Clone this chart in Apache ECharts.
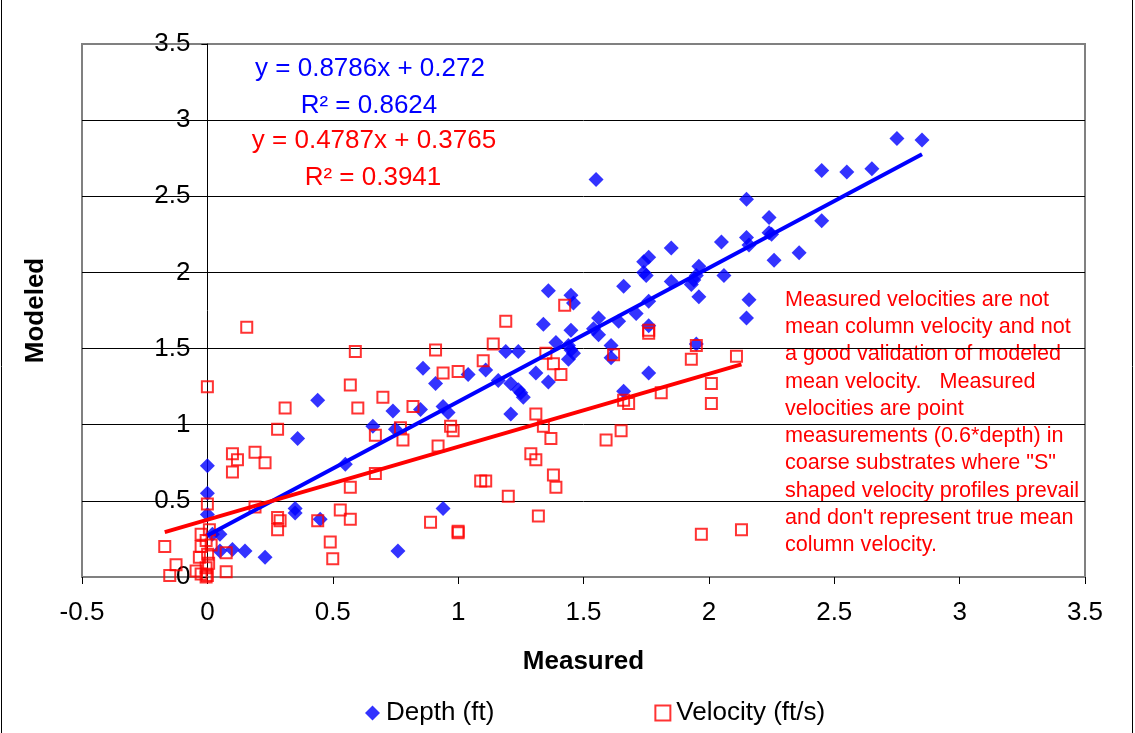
<!DOCTYPE html>
<html>
<head>
<meta charset="utf-8">
<script src="https://cdn.jsdelivr.net/npm/echarts@6/dist/echarts.min.js"></script>
<style>
html,body{margin:0;padding:0;background:#fff;}
#chart{width:1135px;height:733px;}
</style>
</head>
<body>
<div id="chart"></div>
<script>
// ---- Data ----
const depthX = [2.75,2.85,2.45,2.55,2.65,2.45,2.36,2.26,2.24,2.24,2.25,2.15,2.15,2.16,2.16,2.15,2.05,2.06,1.96,1.95,1.94,1.93,1.96,1.95,1.55,1.85,1.76,1.74,1.74,1.75,1.66,1.85,1.76,1.71,1.64,1.56,1.54,1.56,1.76,1.36,1.45,1.46,1.34,1.45,1.39,1.44,1.45,1.61,1.19,1.24,1.46,1.44,1.61,0.86,0.91,1.04,1.11,1.16,1.21,1.24,1.25,1.26,1.31,1.36,1.76,1.66,0.94,0.96,1.21,0.94,0.85,0.44,0.36,0.66,0.74,0.75,0.55,0,0,0,0.35,0.35,0.45,0.05,0.05,0.10,0.15,0.23,0.76,0.02];
const depthY = [2.88,2.87,2.67,2.66,2.68,2.34,2.13,2.08,2.36,2.26,2.25,2.48,2.23,2.18,1.82,1.70,2.20,1.98,2.04,1.98,1.95,1.92,1.84,1.53,2.61,2.16,2.10,2.07,2.00,1.98,1.91,1.94,1.81,1.73,1.68,1.70,1.63,1.59,1.65,1.88,1.85,1.80,1.66,1.62,1.54,1.52,1.49,1.52,1.48,1.48,1.47,1.43,1.44,1.37,1.27,1.33,1.36,1.29,1.27,1.23,1.21,1.18,1.34,1.28,1.34,1.22,1.12,1.08,1.07,0.45,1.10,1.16,0.91,0.99,1.09,0.97,0.74,0.73,0.55,0.41,0.45,0.42,0.38,0.28,0.17,0.18,0.17,0.13,0.17,0.28];
const velX = [-0.025,0.008,-0.005,-0.025,0.015,-0.032,0.001,0.005,-0.005,-0.045,-0.025,0.0,-0.005,0.0,0.0,-0.15,-0.125,-0.17,0.075,0.075,0.157,0.59,0.57,0.70,0.60,0.31,0.28,0.82,0.77,0.78,0.67,0.10,0.12,0.10,0.19,0.23,0.67,0.57,0.19,0.53,0.57,0.28,0.29,0.28,0.44,0.49,0.50,0.91,1.10,1.14,0.94,1.00,1.35,1.38,1.41,1.62,0.97,0.98,0.92,1.31,1.34,1.37,1.29,1.31,1.38,1.39,1.09,1.11,1.20,1.32,0.89,1.00,1.00,1.66,1.68,1.81,1.59,1.65,1.93,2.11,2.01,2.01,1.97,2.13,1.95,1.425,1.19,1.76,1.76];
const velY = [0.28,0.31,0.24,0.20,0.21,0.13,0.15,0.09,0.06,0.04,0.02,0.01,0.0,0.48,1.25,0.01,0.08,0.20,0.035,0.16,1.64,1.48,1.26,1.18,1.11,1.11,0.97,1.12,0.98,0.90,0.93,0.81,0.77,0.69,0.82,0.75,0.68,0.59,0.46,0.44,0.38,0.39,0.37,0.31,0.37,0.23,0.12,1.49,1.42,1.53,1.34,1.35,1.47,1.40,1.33,1.46,0.99,0.96,0.86,1.07,0.99,0.91,0.81,0.77,0.67,0.59,0.63,0.63,0.53,0.40,0.36,0.30,0.29,1.16,1.14,1.21,0.90,0.96,1.43,1.45,1.27,1.14,0.28,0.31,1.52,1.785,1.68,1.60,1.62];
const xTicks = {min:-0.5, max:3.5, interval:0.5};
const yTicks = {min:0, max:3.5, interval:0.5};
const depthFit = {slope:0.8786, intercept:0.272, r2:'0.8624', slopeText:'0.8786', interceptText:'0.272'};
const velFit = {slope:0.4787, intercept:0.3765, r2:'0.3941', slopeText:'0.4787', interceptText:'0.3765'};
const seriesNames = ['Depth (ft)','Velocity (ft/s)'];
const axisNames = {x:'Measured', y:'Modeled'};
const noteText = 'Measured velocities are not\nmean column velocity and not\na good validation of modeled\nmean velocity.   Measured\nvelocities are point\nmeasurements (0.6*depth) in\ncoarse substrates where "S"\nshaped velocity profiles prevail\nand don\'t represent true mean\ncolumn velocity.';

// ---- Build ----
const FONT = '"Liberation Sans", Arial, sans-serif';
const BLUE = '#0000FF', RED = '#FF0000';
const FS = 26;
const pairs = (xs, ys) => xs.map((x, i) => [x, ys[i]]);
const fitLine = (xs, fit) => {
  const lo = Math.min(...xs), hi = Math.max(...xs);
  return [[lo, fit.slope*lo + fit.intercept],[hi, fit.slope*hi + fit.intercept]];
};

const W = 1135, H = 733;
const gridL = 82, gridR = 50, gridT = 44, gridB = 156;
const plotW = W - gridL - gridR;
// y axis crosses at x = 0: shift it inward by the pixel distance of 0 from the left edge
const yAxisShift = plotW * (0 - xTicks.min) / (xTicks.max - xTicks.min);

const chart = echarts.init(document.getElementById('chart'), null, {renderer:'canvas'});
chart.setOption({
  animation:false,
  backgroundColor:'#fff',
  textStyle:{fontFamily:FONT},
  grid:{left:gridL, right:gridR, top:gridT, bottom:gridB, containLabel:false, outerBoundsMode:'none',
        show:true, borderColor:'#808080', borderWidth:2, backgroundColor:'transparent'},
  xAxis:{
    type:'value', min:xTicks.min, max:xTicks.max, interval:xTicks.interval,
    name:axisNames.x, nameLocation:'middle', nameGap:72,
    nameTextStyle:{fontSize:FS, fontWeight:'bold', color:'#000', fontFamily:FONT},
    axisLine:{show:true, onZero:false, lineStyle:{color:'#808080', width:2}},
    axisTick:{show:true, inside:false, length:7, lineStyle:{color:'#000', width:1}},
    axisLabel:{fontSize:FS, color:'#000', margin:23, fontFamily:FONT},
    splitLine:{show:false}
  },
  yAxis:{
    type:'value', min:yTicks.min, max:yTicks.max, interval:yTicks.interval,
    offset:-yAxisShift,
    name:axisNames.y, nameLocation:'middle', nameGap:159,
    nameTextStyle:{fontSize:FS, fontWeight:'bold', color:'#000', fontFamily:FONT},
    axisLine:{show:true, onZero:false, lineStyle:{color:'#000', width:1}},
    axisTick:{show:true, inside:false, length:6, lineStyle:{color:'#000', width:1}},
    axisLabel:{fontSize:FS, color:'#000', margin:17, fontFamily:FONT},
    splitLine:{show:true, showMinLine:false, showMaxLine:false, lineStyle:{color:'#000', width:1}}
  },
  legend:{
    data:seriesNames, left:360, top:695, itemGap:160, itemWidth:15, itemHeight:15,
    textStyle:{fontSize:FS, color:'#000', fontFamily:FONT, padding:[0,0,0,1]}
  },
  series:[
    {name:seriesNames[0], type:'scatter', symbol:'diamond', symbolSize:[15,15], z:3,
     itemStyle:{color:BLUE}, data:pairs(depthX, depthY)},
    {name:seriesNames[1], type:'scatter', symbol:'rect', symbolSize:[11,11], z:4,
     itemStyle:{color:'rgba(255,255,255,0)', borderColor:RED, borderWidth:2}, data:pairs(velX, velY)},
    {name:'depthTrend', type:'line', showSymbol:false, symbol:'none', z:5, silent:true,
     lineStyle:{color:BLUE, width:4}, data:fitLine(depthX, depthFit)},
    {name:'velTrend', type:'line', showSymbol:false, symbol:'none', z:6, silent:true,
     lineStyle:{color:RED, width:4}, data:fitLine(velX, velFit)}
  ],
  graphic:[
    {type:'rect', shape:{x:1.5, y:-5, width:1131, height:745}, style:{fill:'none', stroke:'#000', lineWidth:1}, silent:true},
    {type:'text', x:370, y:69, style:{text:'y = '+depthFit.slopeText+'x + '+depthFit.interceptText, fill:BLUE, fontSize:FS, fontFamily:FONT, align:'center', verticalAlign:'middle'}},
    {type:'text', x:369, y:106, style:{text:'R² = '+depthFit.r2, fill:BLUE, fontSize:FS, fontFamily:FONT, align:'center', verticalAlign:'middle'}},
    {type:'text', x:374, y:141, style:{text:'y = '+velFit.slopeText+'x + '+velFit.interceptText, fill:RED, fontSize:FS, fontFamily:FONT, align:'center', verticalAlign:'middle'}},
    {type:'text', x:373, y:178, style:{text:'R² = '+velFit.r2, fill:RED, fontSize:FS, fontFamily:FONT, align:'center', verticalAlign:'middle'}},
    {type:'text', x:785, y:286, style:{text:noteText, fill:RED, fontSize:21.6, lineHeight:27.3, fontFamily:FONT, align:'left', verticalAlign:'top'}}
  ]
});
</script>
</body>
</html>
